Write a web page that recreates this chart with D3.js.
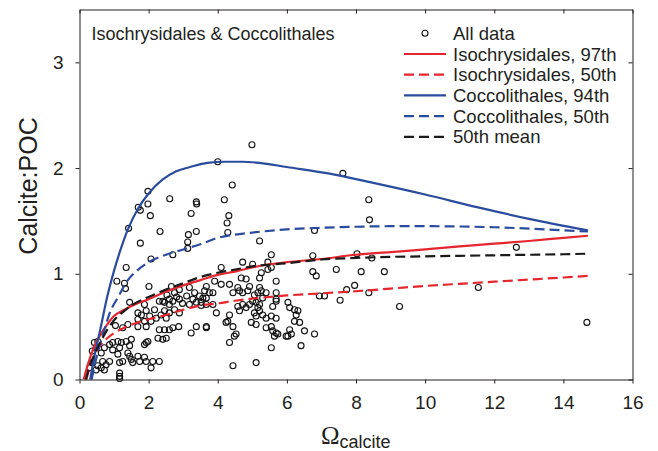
<!DOCTYPE html>
<html>
<head>
<meta charset="utf-8">
<script src="https://cdnjs.cloudflare.com/ajax/libs/d3/7.8.5/d3.min.js"></script>
<style>
  html, body { margin: 0; padding: 0; background: #fff; }
  svg { display: block; }
  text { font-family: "Liberation Sans", Arial, Helvetica, sans-serif; fill: #231f20; }
</style>
</head>
<body>
<div id="chart"></div>
<script>
// ---- data ----
// observations (Omega calcite, Calcite:POC)
var obsOmega = [1.98,1.70,1.76,1.98,2.05,2.61,3.23,3.38,3.39,4.00,4.19,4.32,4.42,4.99,4.27,7.62,8.37,8.39,
  1.42,2.33,1.76,3.15,3.38,3.13,3.13,2.70,2.07,1.35,1.08,1.30,1.33,2.01,1.45,2.53,2.89,3.18,3.33,3.47,3.10,
  2.89,2.60,2.41,3.28,3.52,3.62,1.88,2.31,2.46,2.60,2.70,3.18,3.38,3.52,1.69,1.79,1.93,2.03,1.69,1.88,2.07,
  2.22,2.36,2.51,2.60,2.75,2.89,2.46,2.17,1.04,1.25,1.40,1.69,1.93,2.31,2.46,2.60,2.70,2.87,3.23,3.38,0.43,
  0.53,0.72,0.87,0.96,1.11,1.21,1.35,1.50,1.45,1.16,0.96,1.93,1.88,1.98,2.27,2.41,2.51,1.11,1.40,1.45,1.50,
  1.69,1.74,1.88,1.93,2.12,2.31,1.25,1.16,0.38,0.53,0.63,0.67,0.87,0.77,0.48,0.72,2.07,1.54,1.16,1.16,1.16,
  0.37,0.48,0.63,4.29,5.21,6.80,5.55,4.72,5.45,4.10,5.01,5.21,5.26,5.45,5.69,6.75,6.75,6.85,5.55,4.68,4.82,
  3.67,3.91,4.10,3.76,3.86,4.34,4.44,4.58,4.63,4.72,4.92,4.87,5.06,5.21,5.26,5.16,5.40,5.69,5.30,5.01,5.69,
  6.03,6.94,7.09,3.67,3.57,3.67,3.67,3.96,4.34,4.29,4.24,4.44,4.53,4.48,4.34,4.44,4.58,4.72,4.92,5.11,5.21,
  5.16,5.21,5.30,5.06,5.11,5.40,5.55,5.69,5.59,5.69,6.08,6.22,6.32,6.27,6.37,6.22,6.08,6.13,6.03,6.51,6.80,
  6.41,5.55,5.11,4.97,5.11,5.40,5.55,5.59,5.69,5.74,5.64,5.98,4.63,4.82,7.43,8.15,8.82,7.54,7.73,7.96,8.37,
  8.03,8.46,9.26,11.54,12.64,14.68,0.29,3.67,3.86,2.75,2.81,2.66,2.98];
var obsRatio = [1.78,1.63,1.60,1.66,1.55,1.71,1.57,1.68,1.66,2.06,1.70,1.55,1.84,2.22,1.48,1.95,1.70,1.51,
  1.43,1.40,1.29,1.37,1.40,1.30,1.24,1.18,1.14,1.06,0.93,0.91,0.86,0.88,0.73,0.80,0.85,0.87,0.82,0.79,0.79,
  0.76,0.76,0.74,0.76,0.73,0.84,0.71,0.74,0.73,0.71,0.74,0.71,0.73,0.70,0.63,0.61,0.65,0.60,0.57,0.55,0.55,
  0.58,0.61,0.58,0.63,0.66,0.63,0.65,0.66,0.51,0.49,0.52,0.50,0.50,0.47,0.47,0.47,0.49,0.50,0.44,0.50,0.35,
  0.36,0.30,0.33,0.35,0.36,0.35,0.36,0.38,0.32,0.30,0.28,0.35,0.33,0.36,0.39,0.38,0.39,0.24,0.25,0.22,0.19,
  0.22,0.17,0.21,0.17,0.17,0.17,0.17,0.16,0.16,0.13,0.11,0.17,0.17,0.14,0.09,0.09,0.11,0.16,0.06,0.03,0.01,
  0.27,0.30,0.25,1.39,1.31,1.41,1.18,1.11,1.11,1.06,1.09,0.96,1.01,1.04,0.93,1.17,1.02,0.98,1.06,0.96,0.95,
  0.88,0.93,0.90,0.82,0.82,0.90,0.82,0.87,0.84,0.82,0.88,0.84,0.80,0.87,0.84,0.82,0.82,0.82,0.77,0.74,0.76,
  0.73,0.79,0.79,0.77,0.77,0.50,0.49,0.63,0.61,0.55,0.54,0.50,0.43,0.41,0.35,0.13,0.69,0.71,0.71,0.73,0.71,
  0.68,0.65,0.61,0.63,0.60,0.58,0.60,0.58,0.69,0.74,0.68,0.66,0.65,0.61,0.54,0.55,0.47,0.43,0.41,0.46,0.43,
  0.32,0.30,0.16,0.54,0.52,0.49,0.50,0.46,0.44,0.43,0.41,0.41,0.65,0.68,1.04,1.02,1.02,0.75,0.85,0.89,0.82,
  1.19,1.15,0.69,0.87,1.25,0.54,0.11,0.71,0.71,0.82,0.78,0.88,0.72];

// fitted curves, sampled from the figure
var isoP97Omega  = [0.12,0.25,0.4,0.6,0.8,1.0,1.3,1.6,2.0,2.5,3.0,3.5,4.0,4.5,5.0,5.5,6.0,7.0,8.0,9.0,10.0,11.0,12.0,13.0,14.0,14.71];
var isoP97Ratio  = [0,0.15,0.29,0.42,0.52,0.60,0.66,0.71,0.76,0.83,0.89,0.94,0.99,1.02,1.06,1.09,1.11,1.14,1.18,1.205,1.23,1.26,1.285,1.31,1.34,1.36];
var isoP50Omega  = [0.2,0.3,0.45,0.6,0.8,1.0,1.3,1.6,2.0,2.5,3.0,3.5,4.0,4.5,5.0,6.0,7.0,8.0,9.0,10.0,11.0,12.0,13.0,14.0,14.71];
var isoP50Ratio  = [0,0.12,0.24,0.32,0.39,0.44,0.49,0.53,0.57,0.61,0.66,0.70,0.72,0.745,0.765,0.795,0.815,0.835,0.86,0.885,0.905,0.925,0.945,0.965,0.98];
var cocP94Omega  = [0.31,0.45,0.6,0.8,1.0,1.2,1.4,1.7,2.0,2.4,2.8,3.2,3.7,4.2,4.7,5.2,6.0,7.2,8.5,10.0,11.5,13.0,14.71];
var cocP94Ratio  = [0,0.25,0.47,0.78,1.03,1.24,1.42,1.62,1.76,1.89,1.97,2.01,2.05,2.06,2.06,2.05,2.01,1.95,1.86,1.75,1.63,1.52,1.41];
var cocP50Omega  = [0.35,0.5,0.7,0.9,1.1,1.4,1.7,2.0,2.5,3.0,3.5,4.0,4.5,5.0,6.0,7.0,8.0,9.0,10.0,12.0,13.5,14.71];
var cocP50Ratio  = [0,0.22,0.45,0.65,0.77,0.94,1.04,1.11,1.18,1.23,1.28,1.34,1.37,1.39,1.42,1.435,1.445,1.45,1.45,1.44,1.42,1.40];
var meanP50Omega = [0.18,0.3,0.45,0.6,0.8,1.0,1.3,1.6,2.0,2.5,3.0,3.5,4.0,4.5,5.0,6.0,7.0,8.0,9.0,10.0,11.0,12.0,13.0,14.0,14.71];
var meanP50Ratio = [0,0.13,0.25,0.35,0.47,0.56,0.65,0.72,0.78,0.85,0.91,0.97,1.01,1.04,1.07,1.10,1.135,1.15,1.16,1.165,1.17,1.175,1.18,1.185,1.19];

var xTicks = [0,2,4,6,8,10,12,14,16];
var yTicks = [0,1,2,3];
var legendLabels = ["All data","Isochrysidales, 97th","Isochrysidales, 50th","Coccolithales, 94th","Coccolithales, 50th","50th mean"];

// ---- setup ----
var W = 658, H = 451;
var red = "#e6262e", blue = "#2b4c9e", black = "#1a1a1a";

var svg = d3.select("#chart").append("svg")
  .attr("width", W)
  .attr("height", H);

svg.append("rect").attr("width", W).attr("height", H).attr("fill", "#fff");

var x = d3.scaleLinear().domain([0, 16]).range([79.5, 632.5]);
var y = d3.scaleLinear().domain([0, 3.5]).range([379.5, 9.5]);

// scatter first, lines on top (matlab order)
var pts = d3.range(obsOmega.length).map(function(i){ return [obsOmega[i], obsRatio[i]]; });
svg.append("g").selectAll("circle")
  .data(pts)
  .enter().append("circle")
  .attr("cx", function(d){ return x(d[0]); })
  .attr("cy", function(d){ return y(d[1]); })
  .attr("r", 3)
  .attr("fill", "none")
  .attr("stroke", "#111")
  .attr("stroke-width", 1.1);

var line = d3.line()
  .x(function(d){ return x(d[0]); })
  .y(function(d){ return y(d[1]); })
  .curve(d3.curveMonotoneX);

function zip(a, b){ return a.map(function(v, i){ return [v, b[i]]; }); }

var series = [
  { pts: zip(isoP97Omega, isoP97Ratio), color: red, dash: null },
  { pts: zip(isoP50Omega, isoP50Ratio), color: red, dash: "10,5" },
  { pts: zip(cocP94Omega, cocP94Ratio), color: blue, dash: null },
  { pts: zip(cocP50Omega, cocP50Ratio), color: blue, dash: "10,5" },
  { pts: zip(meanP50Omega, meanP50Ratio), color: black, dash: "10,5" }
];

series.forEach(function(s){
  svg.append("path")
    .attr("d", line(s.pts))
    .attr("fill", "none")
    .attr("stroke", s.color)
    .attr("stroke-width", 2.2)
    .attr("stroke-dasharray", s.dash);
});

// ---- axes: outward ticks bottom/left, inward ticks top/right ----
var gx = svg.append("g")
  .attr("transform", "translate(0," + y(0) + ")")
  .call(d3.axisBottom(x).tickValues(xTicks).tickFormat(d3.format("d")).tickSize(4).tickSizeOuter(0).tickPadding(12));
var gy = svg.append("g")
  .attr("transform", "translate(" + x(0) + ",0)")
  .call(d3.axisLeft(y).tickValues(yTicks).tickFormat(d3.format("d")).tickSize(4).tickSizeOuter(0).tickPadding(12));
var gt = svg.append("g")
  .attr("transform", "translate(0," + y(3.5) + ")")
  .call(d3.axisTop(x).tickValues(xTicks).tickSize(-4).tickSizeOuter(0).tickFormat(""));
var gr = svg.append("g")
  .attr("transform", "translate(" + x(16) + ",0)")
  .call(d3.axisRight(y).tickValues(yTicks).tickSize(-4).tickSizeOuter(0).tickFormat(""));

[gx, gy, gt, gr].forEach(function(g){
  g.selectAll("path").attr("stroke", "#231f20").attr("stroke-width", 1);
  g.selectAll("line").attr("stroke", "#231f20").attr("stroke-width", 1);
  g.selectAll("text")
    .style("font-family", "'Liberation Sans', Arial, Helvetica, sans-serif")
    .style("font-size", "19px")
    .attr("fill", "#231f20");
});

// axis titles
svg.append("text")
  .attr("transform", "translate(36.5," + y(1.83) + ") rotate(-90)")
  .attr("text-anchor", "middle")
  .style("font-size", "25px")
  .text("Calcite:POC");

var xl = svg.append("text")
  .attr("x", 321)
  .attr("y", 443.5);
xl.append("tspan")
  .style("font-family", "'Liberation Serif', 'Times New Roman', serif")
  .style("font-size", "25px")
  .text("Ω");
xl.append("tspan")
  .attr("dy", 4)
  .style("font-size", "18px")
  .text("calcite");

// panel title
svg.append("text")
  .attr("x", 91.5)
  .attr("y", 40)
  .style("font-size", "18px")
  .text("Isochrysidales & Coccolithales");

// ---- legend ----
var lg = svg.append("g");
var rowY = d3.scaleLinear().domain([0, 1]).range([33.3, 54]);
legendLabels.forEach(function(lab, i){
  var cy = rowY(i);
  if (i === 0) {
    lg.append("circle")
      .attr("cx", 425).attr("cy", cy).attr("r", 3)
      .attr("fill", "none").attr("stroke", "#111").attr("stroke-width", 1.1);
  } else {
    var s = series[i - 1];
    lg.append("line")
      .attr("x1", 404).attr("x2", 446).attr("y1", cy).attr("y2", cy)
      .attr("stroke", s.color).attr("stroke-width", 2.2)
      .attr("stroke-dasharray", s.dash);
  }
  lg.append("text")
    .attr("x", 453)
    .attr("y", cy + 6.6)
    .style("font-size", "18.5px")
    .text(lab);
});
</script>
</body>
</html>
